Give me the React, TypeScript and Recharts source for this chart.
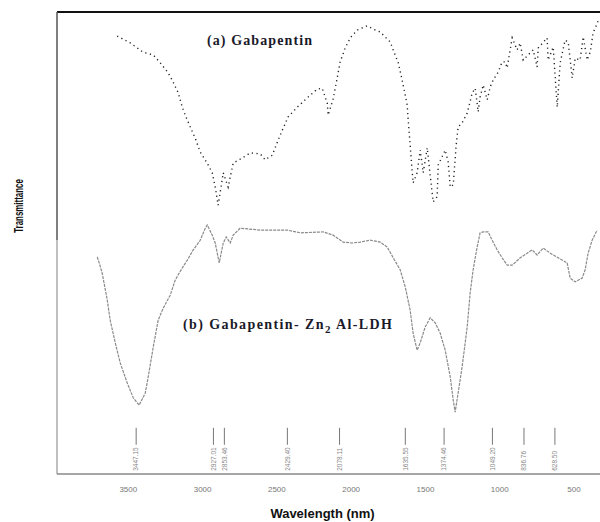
import {
  ComposedChart,
  Line,
  Scatter,
  XAxis,
  YAxis,
  ReferenceLine,
} from "recharts";

// (a) Gabapentin — wavenumber / transmittance (arbitrary %)
const waveA = [
  3575, 3487, 3400, 3332, 3285, 3231, 3198, 3164, 3137, 3117, 3083, 3050, 3016, 2969, 2935, 2915,
  2895, 2861, 2828, 2794, 2733, 2679, 2612, 2579, 2531, 2491, 2457, 2424, 2363, 2296, 2229, 2195,
  2161, 2155, 2121, 2094, 2074, 2040, 2006, 1959, 1892, 1852, 1805, 1737, 1717, 1683, 1657, 1636,
  1623, 1616, 1603, 1583, 1556, 1535, 1515, 1488, 1468, 1448, 1421, 1414, 1367, 1347, 1333, 1313,
  1293, 1280, 1253, 1219, 1185, 1165, 1145, 1132, 1111, 1084, 1064, 1044, 1010, 984, 963, 950,
  916, 883, 862, 842, 809, 775, 748, 741, 681, 674, 640, 613, 593, 560, 539, 512, 492, 459, 438,
  411, 391, 371, 337,
];
const transA = [
  94.8, 93.3, 91.3, 90.7, 89.0, 86.8, 84.8, 82.5, 79.4, 77.7, 75.1, 72.7, 69.7, 67.3, 65.2, 62.1,
  58.2, 65.2, 62.1, 67.3, 68.4, 69.5, 69.3, 68.0, 69.0, 72.3, 74.9, 77.3, 79.4, 81.4, 83.3, 83.5,
  80.3, 77.7, 81.2, 85.7, 89.2, 92.2, 94.4, 96.1, 97.0, 96.3, 95.7, 93.5, 91.8, 89.0, 85.3, 82.0,
  79.9, 76.6, 71.2, 63.0, 65.2, 70.1, 65.2, 70.6, 64.7, 58.9, 60.0, 66.9, 70.1, 67.5, 62.1, 62.6,
  71.2, 75.1, 76.0, 78.1, 82.5, 83.5, 78.4, 81.6, 84.2, 81.0, 83.8, 85.3, 87.0, 89.2, 89.2, 87.9,
  94.4, 91.8, 93.3, 89.6, 90.7, 91.8, 88.1, 92.2, 94.4, 89.6, 92.4, 79.4, 89.0, 93.9, 93.5, 85.7,
  90.0, 89.6, 94.6, 89.6, 91.3, 95.5, 98.1,
];

// (b) Gabapentin-Zn2Al-LDH
const waveB = [
  3709, 3696, 3676, 3642, 3622, 3588, 3554, 3507, 3467, 3427, 3386, 3366, 3332, 3299, 3265, 3218,
  3184, 3137, 3103, 3063, 3016, 2982, 2969, 2935, 2915, 2895, 2888, 2861, 2841, 2814, 2794, 2747,
  2612, 2430, 2343, 2188, 2121, 2054, 1993, 1939, 1872, 1805, 1757, 1717, 1670, 1636, 1603, 1583,
  1556, 1535, 1502, 1468, 1434, 1401, 1367, 1333, 1313, 1300, 1280, 1253, 1219, 1199, 1179, 1152,
  1132, 1111, 1078, 1051, 1017, 984, 950, 916, 862, 815, 782, 748, 708, 660, 607, 546, 526, 492,
  445, 425, 405, 378, 344,
];
const transB = [
  47.0, 45.7, 43.5, 37.7, 33.3, 28.4, 24.0, 19.7, 16.5, 14.9, 17.5, 21.0, 27.5, 33.3, 35.9, 38.7,
  42.0, 44.6, 46.3, 48.5, 50.6, 53.2, 53.9, 51.7, 50.0, 46.8, 45.7, 50.0, 51.3, 50.0, 51.7, 53.2,
  52.8, 52.8, 52.2, 52.4, 51.7, 50.2, 50.0, 50.2, 50.6, 50.2, 49.1, 46.8, 44.2, 40.5, 35.5, 30.5,
  26.8, 28.4, 31.8, 33.8, 32.7, 30.5, 26.8, 21.0, 16.0, 13.4, 17.5, 23.2, 31.8, 39.2, 44.2, 49.1,
  52.2, 52.4, 52.4, 50.6, 48.5, 46.8, 45.2, 45.2, 46.8, 47.8, 48.5, 47.4, 48.9, 47.8, 46.8, 45.7,
  42.4, 41.6, 42.4, 44.2, 47.8, 50.6, 52.8,
];

const peakWaves = [3447.15, 2927.01, 2853.46, 2429.4, 2078.11, 1635.55, 1374.46, 1049.2, 836.76, 628.5];
const xTicks = [3500, 3000, 2500, 2000, 1500, 1000, 500];

const dataA = waveA.map((x, i) => ({ x, y: transA[i] }));
const dataB = waveB.map((x, i) => ({ x, y: transB[i] }));
const peakData = peakWaves.map((x) => ({ x, y: 10, label: x.toFixed(2) }));

function PeakMark(props: any) {
  const { cx, cy, payload } = props;
  const tx = cx + 2.3;
  const ty = cy + 43;
  return (
    <g>
      <line x1={cx} x2={cx} y1={cy} y2={cy + 17} stroke="#777" strokeWidth={1} />
      <text
        x={tx}
        y={ty}
        transform={`rotate(-90 ${tx} ${ty})`}
        fontSize={6.5}
        fill="#888"
        fontFamily="Liberation Sans"
      >
        {payload.label}
      </text>
    </g>
  );
}

function YTitle(props: any) {
  const { viewBox } = props;
  const cx = viewBox.x + 18;
  const cy = viewBox.y + viewBox.height / 2 - 37;
  return (
    <text
      transform={`translate(${cx} ${cy}) rotate(-90) scale(0.72 1.15)`}
      textAnchor="middle"
      dominantBaseline="central"
      fontSize={11}
      fontWeight={700}
      fill="#111"
      fontFamily="Liberation Sans"
    >
      Transmittance
    </text>
  );
}

const labelStyle: React.CSSProperties = {
  position: "absolute",
  fontFamily: "'Liberation Serif', serif",
  fontWeight: 700,
  fontSize: 14,
  color: "#1a1a2a",
  whiteSpace: "nowrap",
};

export default function App() {
  return (
    <div style={{ position: "absolute", left: 0, top: 0, width: 600, height: 522, background: "#fff" }}>
      <ComposedChart width={600} height={522} margin={{ top: 12, right: 0, bottom: 0, left: 0 }}>
        <XAxis
          dataKey="x"
          type="number"
          domain={[325, 3980]}
          reversed
          ticks={xTicks}
          height={48}
          axisLine={{ stroke: "#888", strokeWidth: 1.5 }}
          tickLine={false}
          tickMargin={6}
          tick={{ fontSize: 8, fill: "#777", fontFamily: "Liberation Sans" }}
          label={{
            value: "Wavelength (nm)",
            position: "insideBottom",
            offset: 4,
            dx: -6,
            fontSize: 13,
            fontWeight: 700,
            fill: "#111",
            fontFamily: "Liberation Sans",
          }}
        />
        <YAxis
          type="number"
          domain={[0, 100]}
          width={57}
          tick={false}
          axisLine={false}
          tickLine={false}
          label={<YTitle />}
        />
        <ReferenceLine y={100} stroke="#111" strokeWidth={2} />
        <ReferenceLine segment={[{ x: 3980, y: 100 }, { x: 3980, y: 50.6 }]} stroke="#555" strokeWidth={1.5} />
        <ReferenceLine segment={[{ x: 3980, y: 50.6 }, { x: 3980, y: 0 }]} stroke="#aaa" strokeWidth={1.5} />
        <Line
          data={dataA}
          dataKey="y"
          stroke="#222"
          strokeWidth={1.4}
          strokeDasharray="1.2 3.5"
          dot={false}
          isAnimationActive={false}
        />
        <Line
          data={dataB}
          dataKey="y"
          stroke="#8a8a8a"
          strokeWidth={1.2}
          strokeDasharray="3 1"
          dot={false}
          isAnimationActive={false}
        />
        <Scatter data={peakData} dataKey="y" shape={PeakMark} isAnimationActive={false} />
      </ComposedChart>
      <div style={{ ...labelStyle, left: 207, top: 33, letterSpacing: 1.1 }}>(a) Gabapentin</div>
      <div style={{ ...labelStyle, left: 183, top: 317, letterSpacing: 1.4 }}>
        (b) Gabapentin- Zn<sub style={{ fontSize: 11 }}>2</sub> Al-LDH
      </div>
    </div>
  );
}
